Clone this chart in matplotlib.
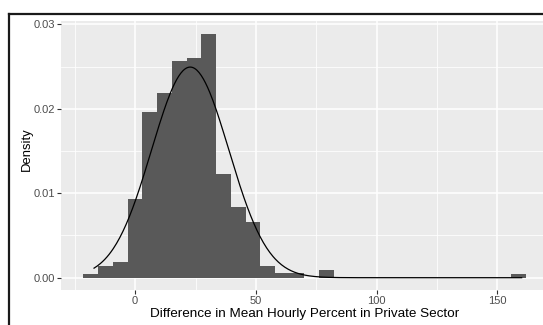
import numpy as np
import matplotlib

matplotlib.use("Agg")
import matplotlib.pyplot as plt
from matplotlib.lines import Line2D

plt.rcParams["font.family"] = ["Liberation Sans", "DejaVu Sans"]

# histogram of the pay gap (density scale), 30 equal bins
bin_start = -21.4
bin_width = 6.1
densities = [
    0.00048, 0.00138, 0.00186, 0.00932, 0.01958, 0.02183, 0.02565, 0.02605,
    0.02889, 0.01224, 0.00840, 0.00656, 0.00139, 0.00050, 0.00050, 0.0,
    0.00092, 0.0, 0.0, 0.0, 0.0, 0.0, 0.0, 0.0,
    0.0, 0.0, 0.0, 0.0, 0.0, 0.00046,
]

# fitted normal overlay
fit_mean = 22.8
fit_sd = 16.0
fit_range = (-17.0, 160.0)

x_ticks = [0, 50, 100, 150]
y_ticks = [0.00, 0.01, 0.02, 0.03]

edges = bin_start + bin_width * np.arange(len(densities) + 1)
xs = np.linspace(*fit_range, 400)
ys = np.exp(-0.5 * ((xs - fit_mean) / fit_sd) ** 2) / (fit_sd * np.sqrt(2 * np.pi))

fig = plt.figure(figsize=(5.43, 3.25), dpi=100)
ax = fig.add_axes([0.1129, 0.108, 0.8956, 0.826])
ax.set_facecolor("#EBEBEB")

ax.bar(edges[:-1], densities, width=bin_width, align="edge", color="#595959", linewidth=0, zorder=2)
ax.plot(xs, ys, color="black", linewidth=0.9, zorder=3)

span = edges[-1] - edges[0]
ax.set_xlim(edges[0] - 0.05 * span, edges[-1] + 0.05 * span)
top = max(densities)
ax.set_ylim(-0.05 * top, 1.05 * top)

ax.set_xticks(x_ticks)
ax.set_xticklabels([str(t) for t in x_ticks])
ax.set_yticks(y_ticks)
ax.set_yticklabels([f"{t:.2f}" for t in y_ticks])
ax.set_xticks([-25, 25, 75, 125], minor=True)
ax.set_yticks([0.005, 0.015, 0.025], minor=True)

ax.grid(which="major", color="white", linewidth=1.1, zorder=1)
ax.grid(which="minor", color="white", linewidth=0.55, zorder=1)
ax.set_axisbelow(True)
for s in ax.spines.values():
    s.set_visible(False)
ax.tick_params(which="major", length=3.2, width=0.8, color="#333333",
               labelcolor="#4D4D4D", labelsize=8, pad=1.5)
ax.tick_params(which="minor", length=0)

ax.set_xlabel("Difference in Mean Hourly Percent in Private Sector", fontsize=9.7, labelpad=0.8)
ax.set_ylabel("Density", fontsize=9.4, labelpad=0.5)
ax.yaxis.label.set_y(0.526)

# frame edges along the top and left
fig.add_artist(Line2D([9 / 543, 1], [1 - 14.3 / 325] * 2, color="#1a1a1a", linewidth=1.6,
                      transform=fig.transFigure))
fig.add_artist(Line2D([9 / 543] * 2, [0, 1 - 14.3 / 325], color="#1a1a1a", linewidth=1.6,
                      transform=fig.transFigure))

fig.savefig("out.png", dpi=100)
plt.close(fig)
